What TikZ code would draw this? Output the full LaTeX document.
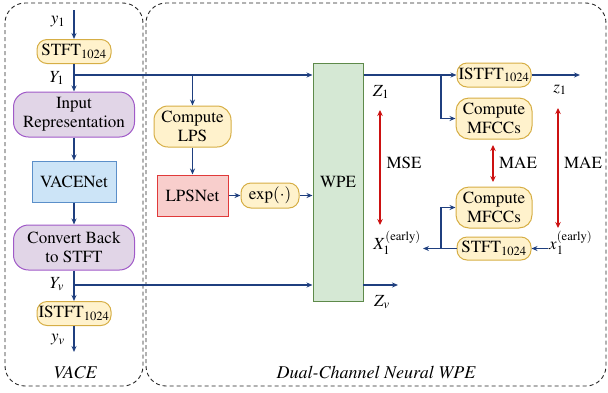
\documentclass[tikz,border=0pt]{standalone}
\usepackage[T1]{fontenc}
\usepackage{mathptmx}
\usetikzlibrary{arrows.meta}
\definecolor{navy}{HTML}{1F3F7F}
\definecolor{yelF}{HTML}{FFF2CC}
\definecolor{yelD}{HTML}{D6AE45}
\definecolor{purF}{HTML}{E1D5E7}
\definecolor{purD}{HTML}{A05AC8}
\definecolor{bluF}{HTML}{CCE4F7}
\definecolor{bluD}{HTML}{5B8FC9}
\definecolor{redF}{HTML}{F8CECC}
\definecolor{redD}{HTML}{E03A3A}
\definecolor{grnF}{HTML}{D5E8D4}
\definecolor{grnD}{HTML}{5E8A4A}
\definecolor{redA}{HTML}{CC1111}
\begin{document}
\begin{tikzpicture}[x=1pt,y=-1pt,
  font=\fontsize{17}{19}\selectfont,
  box/.style={line width=1pt, inner sep=0pt, align=center},
  yel/.style={box, draw=yelD, fill=yelF, rounded corners=10pt, minimum width=74pt, minimum height=24pt},
  yelbig/.style={yel, rounded corners=13pt, minimum width=76pt, minimum height=41pt},
  pur/.style={box, draw=purD, fill=purF, rounded corners=15pt, minimum width=121pt, minimum height=45pt},
  blu/.style={box, draw=bluD, fill=bluF, minimum width=84pt, minimum height=41pt},
  rbox/.style={box, draw=redD, fill=redF, minimum width=71pt, minimum height=41pt},
  gbox/.style={box, draw=grnD, fill=grnF, minimum width=50pt, minimum height=238pt},
  arr/.style={draw=navy, line width=1.1pt, -{Stealth[length=6pt,width=5pt]}},
  redarr/.style={draw=redA, line width=1.6pt, {Stealth[length=6pt,width=5.5pt]}-{Stealth[length=6pt,width=5.5pt]}},
  frame/.style={draw=black!85, line width=0.9pt, dash pattern=on 4pt off 3pt, rounded corners=20pt},
  lbl/.style={inner sep=1pt},
  captext/.style={inner sep=1pt, font=\fontsize{18}{20}\selectfont\itshape}
]
\useasboundingbox (0,0) rectangle (608,392);
% frames
\draw[frame] (5,3) rectangle (143,386);
\draw[frame] (146,3) rectangle (606,386);
\node[captext] (tvace) at (75,372) {VACE};
\node[captext] (twpe) at (376,372) {Dual-Channel Neural WPE};

% left column
\node[yel] (stft1) at (74,51.5) {STFT$_{1024}$};
\node[pur] (inrep) at (74,114.5) {Input\\Representation};
\node[blu] (vace) at (74,181.5) {VACENet};
\node[pur] (conv) at (74,247.5) {Convert Back\\to STFT};
\node[yel] (istftv) at (74,313.5) {ISTFT$_{1024}$};
\coordinate (yin) at (74,10);
\coordinate (yout) at (74,352);
\coordinate (j1) at (74,75);
\coordinate (jv) at (74,285);
\node[lbl] (ly1) at (58,22) {$y_1$};
\node[lbl] (lY1) at (57,78) {$Y_1$};
\node[lbl] (lYv) at (57,284) {$Y_v$};
\node[lbl] (lyv) at (58,340) {$y_v$};
\draw[arr] (yin) -- (stft1.north);
\draw[arr] (stft1.south) -- (inrep.north);
\draw[arr] (inrep.south) -- (vace.north);
\draw[arr] (vace.south) -- (conv.north);
\draw[arr] (conv.south) -- (istftv.north);
\draw[arr] (istftv.south) -- (yout);

% middle
\node[gbox] (wpe) at (338,182) {WPE};
\node[yelbig, minimum width=77pt, rounded corners=14pt] (lps) at (192.5,126.5) {Compute\\LPS};
\node[rbox] (lpsnet) at (192.5,195.5) {LPSNet};
\node[yel, minimum width=58pt, minimum height=25pt] (exp) at (270,195.5) {exp$(\cdot)$};
\coordinate (b1) at (192.5,75);
\draw[arr] (j1) -- (j1 -| wpe.west);
\draw[arr] (b1) -- (lps.north);
\draw[arr] (lps.south) -- (lpsnet.north);
\draw[arr] (lpsnet.east) -- (exp.west);
\draw[arr] (exp.east) -- (exp -| wpe.west);
\draw[arr] (jv) -- (jv -| wpe.west);

% right
\node[yel] (istft1) at (494,75) {ISTFT$_{1024}$};
\node[yelbig] (mfcc1) at (494,118.5) {Compute\\MFCCs};
\node[yelbig] (mfcc2) at (494,207.5) {Compute\\MFCCs};
\node[yel, minimum height=23pt] (stft2) at (494,248.5) {STFT$_{1024}$};
\coordinate (j2) at (441,75);
\coordinate (j3) at (441,248.5);
\coordinate (z1end) at (580,75);
\coordinate (zvs) at (363,285);
\coordinate (zvend) at (398,285);
\coordinate (xe) at (548,248.5);
\coordinate (Xend) at (423,248.5);
\draw[arr] (wpe.east |- istft1) -- (istft1.west);
\draw[arr] (j2) |- (mfcc1.west);
\draw[arr] (istft1.east) -- (z1end);
\draw[arr] (zvs) -- (zvend);
\draw[arr] (xe) -- (stft2.east);
\draw[arr] (stft2.west) -- (Xend);
\draw[arr] (j3) |- (mfcc2.west);

\node[lbl] (lZ1) at (381,92) {$Z_1$};
\node[lbl] (lz1) at (560,90) {$z_1$};
\node[lbl] (lZv) at (382,302) {$Z_v$};
\node[lbl, anchor=east] (lX1) at (422,243) {$X_1^{(\mathrm{early})}$};
\node[lbl, anchor=west] (lx1) at (548,243) {$x_1^{(\mathrm{early})}$};

\coordinate (m1a) at (380,110); \coordinate (m1b) at (380,225);
\coordinate (m2a) at (493,145); \coordinate (m2b) at (493,182);
\coordinate (m3a) at (558,108); \coordinate (m3b) at (558,228);
\draw[redarr] (m1a) -- (m1b);
\draw[redarr] (m2a) -- (m2b);
\draw[redarr] (m3a) -- (m3b);
\node[lbl] (tmse) at (404,163) {MSE};
\node[lbl] (tmae1) at (518,163) {MAE};
\node[lbl] (tmae2) at (583,163) {MAE};
\end{tikzpicture}
\end{document}
